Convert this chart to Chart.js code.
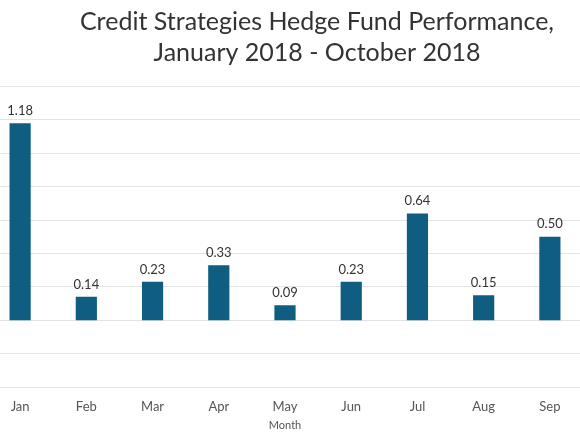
<!DOCTYPE html>
<html>
<head>
<meta charset="utf-8">
<script src="https://cdn.jsdelivr.net/npm/chart.js@4/dist/chart.umd.min.js"></script>
<style>
  html, body { margin: 0; padding: 0; background: #fff; overflow: hidden; }
  #wrap { position: absolute; left: -13px; top: 0; width: 660px; height: 435px; }
</style>
</head>
<body>
<div id="wrap"><canvas id="c"></canvas></div>
<script>
const categories = ["Jan", "Feb", "Mar", "Apr", "May", "Jun", "Jul", "Aug", "Sep"];
const performance = [1.18, 0.14, 0.23, 0.33, 0.09, 0.23, 0.64, 0.15, 0.50];
const titleLines = ["Credit Strategies Hedge Fund Performance,", "January 2018 - October 2018"];
const xTitle = "Month";

const valueLabels = {
  id: 'valueLabels',
  afterDatasetsDraw(chart) {
    const ctx = chart.ctx;
    const meta = chart.getDatasetMeta(0);
    ctx.save();
    ctx.font = '13px Lato';
    ctx.fillStyle = '#333333';
    ctx.textAlign = 'center';
    ctx.textBaseline = 'bottom';
    meta.data.forEach((bar, i) => {
      ctx.fillText(performance[i].toFixed(2), bar.x, bar.y - 6);
    });
    ctx.restore();
  }
};

new Chart(document.getElementById('c'), {
  type: 'bar',
  data: {
    labels: categories,
    datasets: [{
      data: performance,
      backgroundColor: '#0f5e82',
      borderWidth: 0,
      barPercentage: 0.4,
      categoryPercentage: 0.8
    }]
  },
  options: {
    responsive: true,
    maintainAspectRatio: false,
    animation: false,
    layout: { padding: { left: 0, right: 0, top: 0, bottom: 3 } },
    plugins: {
      legend: { display: false },
      tooltip: { enabled: false },
      title: {
        display: true,
        text: titleLines,
        color: '#333333',
        font: { family: 'Lato', size: 25, weight: 'normal', lineHeight: 1.25 },
        padding: { top: 6, bottom: 18 }
      }
    },
    scales: {
      x: {
        grid: { display: false, drawTicks: false },
        border: { display: false },
        ticks: { color: '#555555', font: { family: 'Lato', size: 13 }, padding: 12 },
        title: { display: true, text: xTitle, color: '#555555', font: { family: 'Lato', size: 11 }, padding: { top: 2, bottom: 0 } },
        afterFit(axis) { axis.height = 45; }
      },
      y: {
        min: -0.4,
        max: 1.4,
        ticks: { display: false, stepSize: 0.2 },
        border: { display: false },
        grid: { color: '#e3e3e3', drawTicks: false, lineWidth: 1 }
      },
      yRight: {
        position: 'right',
        min: -0.4,
        max: 1.4,
        ticks: { display: false },
        border: { display: false },
        grid: { display: false, drawTicks: false },
        afterFit(axis) { axis.width = 64; }
      }
    }
  },
  plugins: [valueLabels]
});
</script>
</body>
</html>
